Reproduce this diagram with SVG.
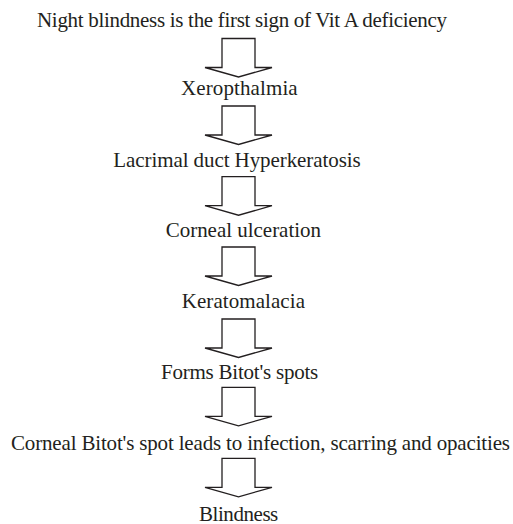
<svg xmlns="http://www.w3.org/2000/svg" width="513" height="524" viewBox="0 0 513 524">
<style>
.a{fill:#fff;stroke:#231f20;stroke-width:1.3;stroke-linejoin:miter}
</style>
<defs>
<polygon id="arr" class="a" points="222,0 255,0 255,29 272,29 238.5,38.5 205,29 222,29"/>
</defs>
<rect width="513" height="524" fill="#fff"/>
<g id="connectors">
<use href="#arr" y="38.5"/>
<use href="#arr" y="106"/>
<use href="#arr" y="176.7"/>
<use href="#arr" y="247"/>
<use href="#arr" y="319"/>
<use href="#arr" y="387.3"/>
<use href="#arr" y="458.3"/>
</g>
<g id="nodes" font-family="Liberation Serif" font-size="21" fill="#231f20">
<g id="n1"><text x="37" y="26.7" textLength="410" lengthAdjust="spacing">Night blindness is the first sign of Vit A deficiency</text></g>
<g id="n2"><text x="181" y="95" textLength="116.7" lengthAdjust="spacing">Xeropthalmia</text></g>
<g id="n3"><text x="113.3" y="166.7" textLength="247.4" lengthAdjust="spacing">Lacrimal duct Hyperkeratosis</text></g>
<g id="n4"><text x="165.7" y="237.3" textLength="155.3" lengthAdjust="spacing">Corneal ulceration</text></g>
<g id="n5"><text x="181.7" y="307.7" textLength="123.3" lengthAdjust="spacing">Keratomalacia</text></g>
<g id="n6"><text x="161" y="379.3" textLength="157.3" lengthAdjust="spacing">Forms Bitot's spots</text></g>
<g id="n7"><text x="11" y="450" textLength="499" lengthAdjust="spacing">Corneal Bitot's spot leads to infection, scarring and opacities</text></g>
<g id="n8"><text x="199" y="520.5" textLength="79.3" lengthAdjust="spacing">Blindness</text></g>
</g>
</svg>
